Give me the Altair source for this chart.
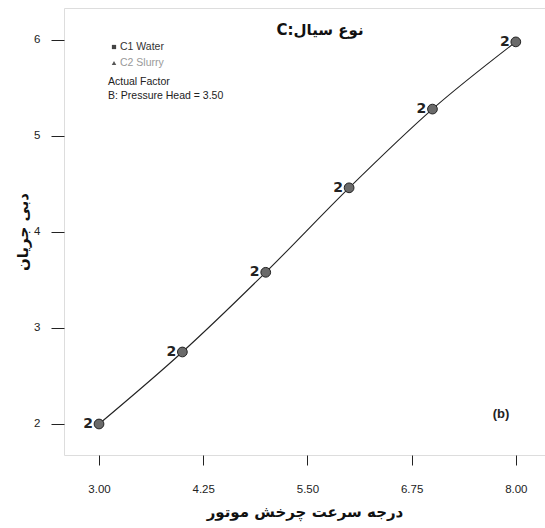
import altair as alt
import pandas as pd

speed = [3.0, 4.0, 5.0, 6.0, 7.0, 8.0]
flow = [2.0, 2.75, 3.58, 4.46, 5.28, 5.98]
rep_label = ["2", "2", "2", "2", "2", "2"]

x_ticks = [3.0, 4.25, 5.5, 6.75, 8.0]
y_ticks = [2, 3, 4, 5, 6]

df = pd.DataFrame({"speed": speed, "flow": flow, "lab": rep_label})

FONT = "Liberation Sans"
xs = alt.Scale(domain=[2.58, 8.35], nice=False, zero=False)
ys = alt.Scale(domain=[1.677, 6.333], nice=False, zero=False)

x_enc = alt.X("speed:Q", scale=xs,
              axis=alt.Axis(values=x_ticks, format=".2f", grid=False,
                            title="درجه سرعت چرخش موتور", titleFontSize=15,
                            titleFont="DejaVu Sans", titleFontWeight="bold",
                            titlePadding=10, labelFontSize=11.5, labelFont=FONT,
                            labelPadding=18, tickSize=10, tickColor="#222",
                            domain=False, labelColor="#222", titleColor="#111"))
y_enc = alt.Y("flow:Q", scale=ys,
              axis=alt.Axis(values=y_ticks, format="d", grid=False,
                            title="دبی جریان", titleFontSize=15,
                            titleFont="DejaVu Sans", titleFontWeight="bold",
                            titlePadding=3, labelFontSize=11.5, labelFont=FONT,
                            labelPadding=11, tickSize=13, tickColor="#222",
                            domain=False, labelColor="#222", titleColor="#111"))

base = alt.Chart(df)

line = base.mark_line(color="#222", strokeWidth=1.1, interpolate="monotone").encode(
    x=x_enc, y=y_enc)
pts = base.mark_point(shape="circle", filled=True, size=95, color="#6a6a6a",
                      stroke="#222", strokeWidth=1, opacity=1).encode(
    x="speed:Q", y="flow:Q")
labs = base.mark_text(dx=-11, dy=0, fontSize=14, fontWeight="bold",
                      font="DejaVu Sans", color="#222").encode(
    x="speed:Q", y="flow:Q", text="lab:N")

title_txt = ["C:نوع سیال"]
leg_txt = ["C1 Water", "C2 Slurry"]
leg_col = ["#333", "#999"]
fac_txt = ["Actual Factor", "B: Pressure Head = 3.50"]

ann = []
ann.append(alt.Chart(pd.DataFrame({"t": title_txt})).mark_text(
    fontSize=15, fontWeight="bold", font="DejaVu Sans", color="#111").encode(
    x=alt.value(256), y=alt.value(22), text="t:N"))
ann.append(alt.Chart(pd.DataFrame({"t": [leg_txt[0]]})).mark_text(
    fontSize=10.5, font=FONT, color=leg_col[0], align="left").encode(
    x=alt.value(56), y=alt.value(39), text="t:N"))
ann.append(alt.Chart(pd.DataFrame({"t": [leg_txt[1]]})).mark_text(
    fontSize=10.5, font=FONT, color=leg_col[1], align="left").encode(
    x=alt.value(56), y=alt.value(55), text="t:N"))
ann.append(alt.Chart(pd.DataFrame({"t": ["s"]})).mark_point(
    shape="square", filled=True, size=18, color="#444", opacity=1).encode(
    x=alt.value(50), y=alt.value(39)))
ann.append(alt.Chart(pd.DataFrame({"t": ["t"]})).mark_point(
    shape="triangle-up", filled=True, size=20, color="#555", opacity=1).encode(
    x=alt.value(50), y=alt.value(55)))
ann.append(alt.Chart(pd.DataFrame({"t": [fac_txt[0]]})).mark_text(
    fontSize=10.5, font=FONT, color="#222", align="left").encode(
    x=alt.value(44), y=alt.value(74), text="t:N"))
ann.append(alt.Chart(pd.DataFrame({"t": [fac_txt[1]]})).mark_text(
    fontSize=10.5, font=FONT, color="#222", align="left").encode(
    x=alt.value(44), y=alt.value(88), text="t:N"))
ann.append(alt.Chart(pd.DataFrame({"t": ["(b)"]})).mark_text(
    fontSize=13, fontWeight="bold", font=FONT, color="#222").encode(
    x=alt.value(437), y=alt.value(406), text="t:N"))

chart = alt.layer(line, pts, labs, *ann).properties(
    width=481, height=447,
    autosize=alt.AutoSizeParams(type="none"),
    padding={"left": 64, "top": 8, "right": 0, "bottom": 73},
).configure_view(stroke="#222", strokeWidth=1.2).configure(background="white")

chart.save("out.html", embed_options={"renderer": "svg", "actions": False})
